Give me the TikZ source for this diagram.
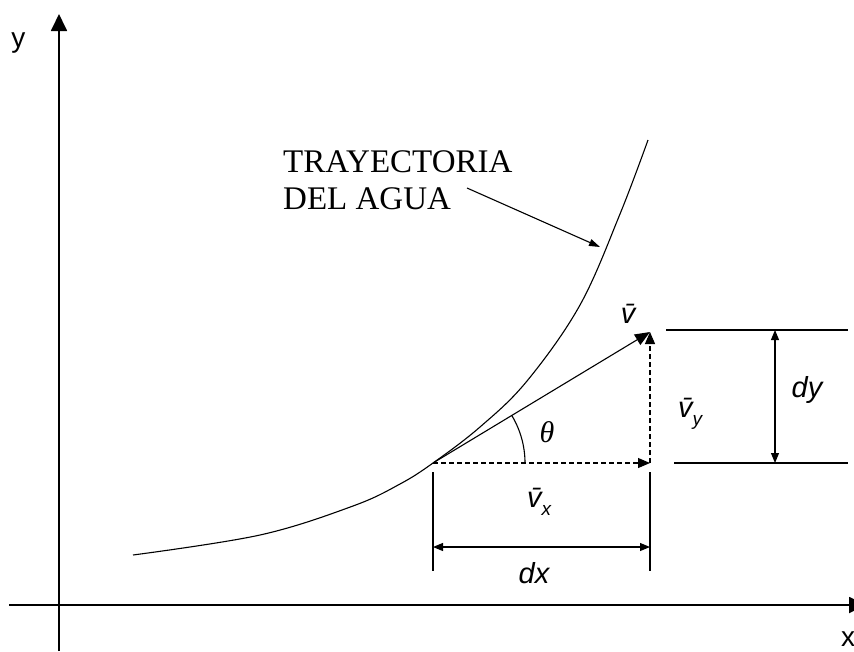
\documentclass[tikz,border=0pt]{standalone}
\usepackage{fontspec}
\setmainfont{Liberation Serif}
\setsansfont{Liberation Sans}
\usetikzlibrary{arrows.meta}
\begin{document}
\begin{tikzpicture}[x=1pt,y=-1pt,
  axis/.style={line width=1.8pt,-{Triangle[length=17pt,width=16pt]}},
  thinline/.style={line width=1.1pt},
  dimarrow/.style={line width=1.1pt,{Triangle[length=10pt,width=8pt]}-{Triangle[length=10pt,width=8pt]}},
  dsh/.style={line width=1.1pt,dash pattern=on 5pt off 3pt},
  lbl/.style={font=\sffamily\itshape\fontsize{29}{31}\selectfont,inner sep=0pt},
  axlbl/.style={font=\sffamily\fontsize{28}{30}\selectfont,inner sep=0pt}]
\clip (0,0) rectangle (854,651);
% axes
\coordinate (O) at (59,605);
\coordinate (ytop) at (59,14);
\coordinate (ybot) at (59,651);
\coordinate (xleft) at (9,605);
\coordinate (xright) at (866,605);
\draw[axis] (ybot) -- (ytop);
\draw[axis] (xleft) -- (xright);
\node[axlbl,anchor=base] (ylab) at (18.5,47) {y};
\node[axlbl,anchor=base] (xlab) at (848,646) {x};
% trajectory
\draw[thinline] plot[smooth,tension=0.6] coordinates {(133,555) (260,535) (353,506) (400,484) (433,463) (480,427) (527,381) (580,305) (620,214) (648,140)};
% points
\coordinate (P) at (433,463);
\coordinate (V) at (650,332);
\coordinate (Vx) at (650,463);
% text and pointer
\node[anchor=north west,align=left,inner sep=0pt,font=\fontsize{33}{37}\selectfont] (traj) at (283,150) {TRAYECTORIA\\DEL AGUA};
\coordinate (ts) at (467,188);
\coordinate (te) at (600,247);
\draw[thinline,-{Triangle[length=11pt,width=7pt]}] (ts) -- (te);
% velocity components
\draw[dsh,-{Triangle[length=12pt,width=10pt]}] (P) -- (Vx);
\draw[dsh,-{Triangle[length=12pt,width=10pt]}] (Vx) -- (V);
\draw[thinline,-{Triangle[length=15pt,width=12pt]}] (P) -- (V);
% angle
\draw[thinline] (P) ++(92,0) arc[start angle=0,end angle=31,radius=92pt];
\node[font=\itshape\fontsize{30}{32}\selectfont,inner sep=0pt] (th) at (547,432) {θ};
% labels
\node[lbl,anchor=base] (vlab) at (628,323) {\=v};
\node[lbl,anchor=base west] (vylab) at (678,417) {\=v\raisebox{-0.3em}{\fontsize{19}{19}\selectfont y}};
\node[lbl,anchor=base west] (vxlab) at (527,507) {\=v\raisebox{-0.3em}{\fontsize{19}{19}\selectfont x}};
% dx dimension
\coordinate (dxl1) at (433,472);
\coordinate (dxl2) at (433,571);
\coordinate (dxr1) at (650,472);
\coordinate (dxr2) at (650,571);
\draw[thinline] (dxl1) -- (dxl2);
\draw[thinline] (dxr1) -- (dxr2);
\coordinate (dxa) at (433,547);
\coordinate (dxb) at (650,547);
\draw[dimarrow] (dxa) -- (dxb);
\node[lbl,anchor=base] (dxlab) at (534,583) {dx};
% dy dimension
\coordinate (dyt1) at (666,330);
\coordinate (dyt2) at (848,330);
\coordinate (dyb1) at (674,463);
\coordinate (dyb2) at (848,463);
\draw[thinline] (dyt1) -- (dyt2);
\draw[thinline] (dyb1) -- (dyb2);
\coordinate (dya) at (775,330);
\coordinate (dyb) at (775,463);
\draw[dimarrow] (dya) -- (dyb);
\node[lbl,anchor=base] (dylab) at (807,397) {dy};
\end{tikzpicture}
\end{document}
